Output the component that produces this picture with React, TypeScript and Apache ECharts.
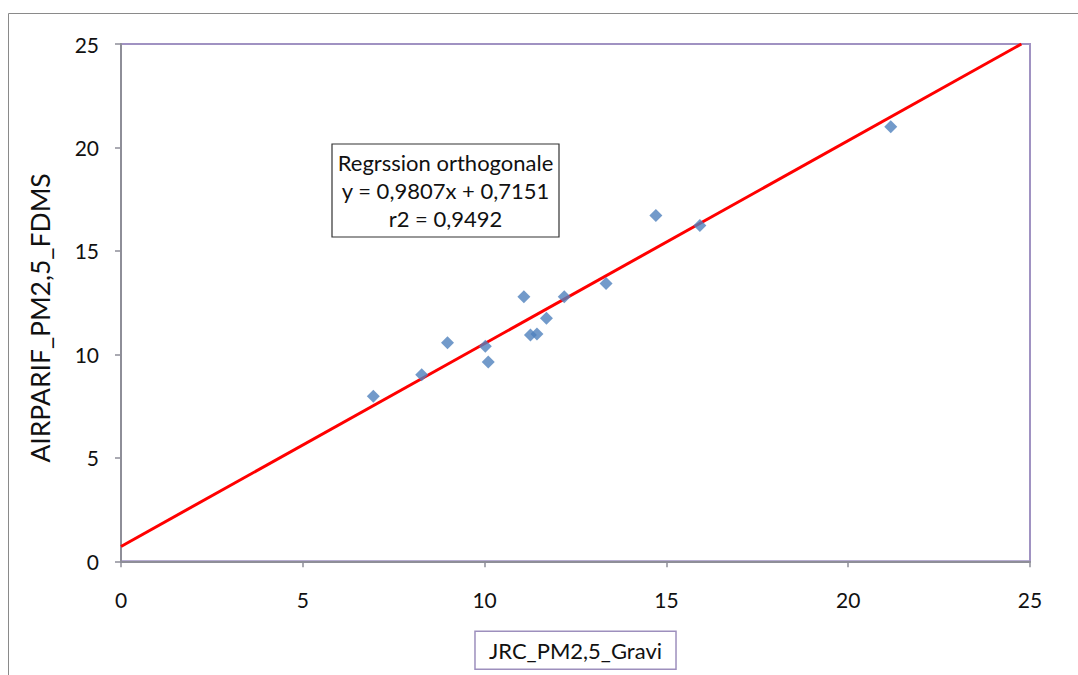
import React, { useEffect, useRef } from "react";
import * as echarts from "echarts";

const gravi: number[] = [6.94, 8.27, 8.98, 10.02, 10.1, 11.08, 11.26, 11.44, 11.7, 12.19, 13.34, 14.71, 15.92, 21.17];
const fdms: number[] = [7.98, 9.02, 10.56, 10.39, 9.63, 12.78, 10.93, 10.98, 11.74, 12.78, 13.42, 16.71, 16.23, 21.0];
const slope = 0.9807;
const intercept = 0.7151;
const axisMax = 25;
const axisStep = 5;
const xTitle = "JRC_PM2,5_Gravi";
const yTitle = "AIRPARIF_PM2,5_FDMS";
const boxLines: string[] = [
  "Regrssion orthogonale",
  "y = 0,9807x + 0,7151",
  "r2 = 0,9492",
];

export default function App() {
  const ref = useRef<HTMLDivElement>(null);
  useEffect(() => {
    if (!ref.current) return;
    const chart = echarts.init(ref.current, null, { renderer: "svg" });
    const font = "Lato, 'Open Sans', sans-serif";
    const xEnd = Math.min(axisMax, (axisMax - intercept) / slope);
    const lineData = [
      [0, intercept],
      [xEnd, slope * xEnd + intercept],
    ];
    const pts = gravi.map((x, i) => [x, fdms[i]]);
    chart.setOption({
      animation: false,
      backgroundColor: "#ffffff",
      grid: {
        left: 121,
        top: 44,
        width: 909,
        height: 519,
        show: true,
        borderColor: "#a092c2",
        borderWidth: 2,
        backgroundColor: "transparent",
      },
      xAxis: {
        type: "value",
        min: 0,
        max: axisMax,
        interval: axisStep,
        splitLine: { show: false },
        axisLine: { show: true, lineStyle: { color: "#8e8e98", width: 2 } },
        axisTick: { show: true, length: 6, lineStyle: { color: "#8e8e98", width: 1.5 } },
        axisLabel: { color: "#111", fontFamily: font, fontSize: 21, margin: 28 },
        name: xTitle,
        nameLocation: "middle",
        nameGap: 70,
        nameTextStyle: {
          fontFamily: font,
          fontSize: 22,
          color: "#111",
          borderColor: "#9d8fbd",
          borderWidth: 1.5,
          padding: [8, 14, 8, 14],
          width: 167,
          align: "center",
        },
      },
      yAxis: {
        type: "value",
        min: 0,
        max: axisMax,
        interval: axisStep,
        splitLine: { show: false },
        axisLine: { show: true, lineStyle: { color: "#8e8e98", width: 2 } },
        axisTick: { show: true, length: 6, lineStyle: { color: "#8e8e98", width: 1.5 } },
        axisLabel: { color: "#111", fontFamily: font, fontSize: 21, margin: 22 },
      },
      graphic: [
        {
          type: "rect",
          shape: { x: 8.5, y: 13.5, width: 1200, height: 800 },
          style: { fill: "none", stroke: "#8a8a8a", lineWidth: 1 },
          silent: true,
        },
        {
          type: "text",
          x: 40,
          y: 318,
          rotation: Math.PI / 2,
          style: {
            text: yTitle,
            fontFamily: font,
            fontSize: 26.5,
            fill: "#111",
            textAlign: "center",
            textVerticalAlign: "middle",
          },
        },
        {
          type: "rect",
          shape: { x: 332, y: 144, width: 227, height: 93 },
          style: { fill: "#ffffff", stroke: "#333333", lineWidth: 1.2 },
          z: 10,
        },
        ...boxLines.map((t, i) => ({
          type: "text",
          x: 445.5,
          y: 162 + i * 28,
          z: 11,
          style: {
            text: t,
            fontFamily: font,
            fontSize: 22,
            fill: "#111",
            textAlign: "center",
            textVerticalAlign: "middle",
          },
        })),
      ],
      series: [
        {
          type: "line",
          data: lineData,
          showSymbol: false,
          symbol: "none",
          lineStyle: { color: "#ff0000", width: 3 },
          z: 3,
        },
        {
          type: "scatter",
          data: pts,
          symbol: "diamond",
          symbolSize: 13,
          itemStyle: { color: "#4f81bd" },
          z: 4,
        },
      ],
    });
    return () => chart.dispose();
  }, []);
  return (
    <div
      ref={ref}
      style={{ position: "fixed", left: 0, top: 0, width: 1078, height: 675 }}
    />
  );
}
